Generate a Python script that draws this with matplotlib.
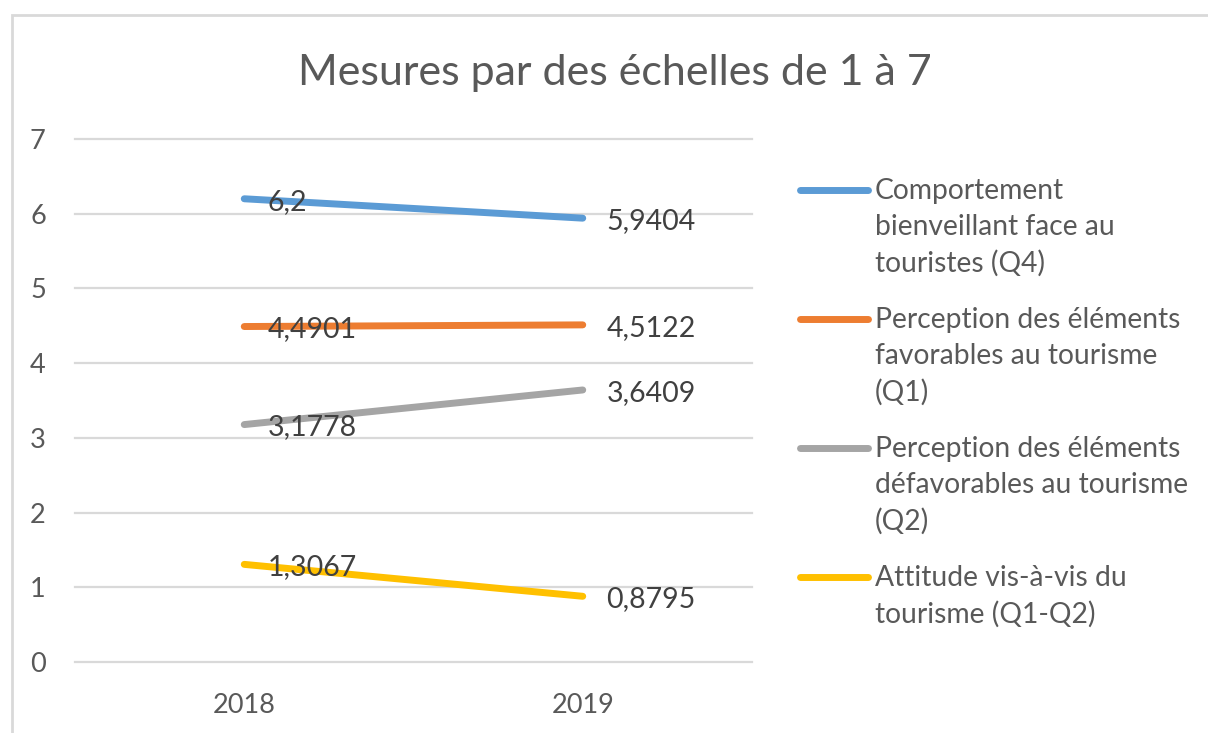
import matplotlib
matplotlib.use('Agg')
import matplotlib.pyplot as plt
from matplotlib.lines import Line2D
from matplotlib.patches import Rectangle

plt.rcParams['font.family'] = ['Lato', 'DejaVu Sans']

# données
years = ['2018', '2019']
q4_bienveillant = [6.2, 5.9404]
q1_favorables = [4.4901, 4.5122]
q2_defavorables = [3.1778, 3.6409]
attitude_q1_q2 = [1.3067, 0.8795]
y_ticks = [0, 1, 2, 3, 4, 5, 6, 7]

series_names = [
    'Comportement\nbienveillant face au\ntouristes (Q4)',
    'Perception des éléments\nfavorables au tourisme\n(Q1)',
    'Perception des éléments\ndéfavorables au tourisme\n(Q2)',
    'Attitude vis-à-vis du\ntourisme (Q1-Q2)',
]
series_values = [q4_bienveillant, q1_favorables, q2_defavorables, attitude_q1_q2]
colors = ['#5B9BD5', '#ED7D31', '#A5A5A5', '#FFC000']

W, H = 1208, 733
TXT = '#595959'


def fx(px):
    return px / W


def fy(py):
    return 1 - py / H


fig = plt.figure(figsize=(W / 100, H / 100), dpi=100)

# cadre du graphique
fig.add_artist(Rectangle((fx(12), -0.1), 1.2, fy(15) + 0.1, transform=fig.transFigure,
                         fill=False, edgecolor='#D9D9D9', lw=2, clip_on=False))

ax = fig.add_axes([fx(75), fy(662), fx(752) - fx(75), fy(139) - fy(662)])
ax.set_xlim(-0.5, 1.5)
ax.set_ylim(0, 7)
ax.set_yticks(y_ticks)
ax.set_xticks(range(len(years)))
ax.set_xticklabels(years)
for s in ax.spines.values():
    s.set_visible(False)
ax.grid(axis='y', color='#D9D9D9', lw=1.6)
ax.set_axisbelow(True)
ax.tick_params(axis='y', length=0, pad=21, labelsize=19.5, labelcolor=TXT)
ax.tick_params(axis='x', length=0, pad=22, labelsize=19.5, labelcolor=TXT)
for gl in ax.get_ygridlines():
    gl.set_clip_on(False)

x = list(range(len(years)))
for vals, c in zip(series_values, colors):
    ax.plot(x, vals, color=c, lw=5, solid_capstyle='round', zorder=3, clip_on=False)
    for xi, v in zip(x, vals):
        ax.annotate(str(v).replace('.', ','), (xi, v), xytext=(17, -2),
                    textcoords='offset points', ha='left', va='center',
                    fontsize=20.5, color='#404040', zorder=4)

fig.text(fx(615), fy(73), 'Mesures par des échelles de 1 à 7', ha='center', va='center',
         fontsize=31, color=TXT)

# légende à droite
y = 190
line_h = 38
for name, c in zip(series_names, colors):
    fig.add_artist(Line2D([fx(800), fx(868)], [fy(y), fy(y)], color=c, lw=5,
                          solid_capstyle='round', transform=fig.transFigure))
    fig.text(fx(875), fy(y - 12), name, ha='left', va='top', fontsize=20.3,
             color=TXT, linespacing=1.47)
    y += name.count('\n') * line_h + line_h + 15

fig.savefig('out.png', dpi=100, facecolor='white')
